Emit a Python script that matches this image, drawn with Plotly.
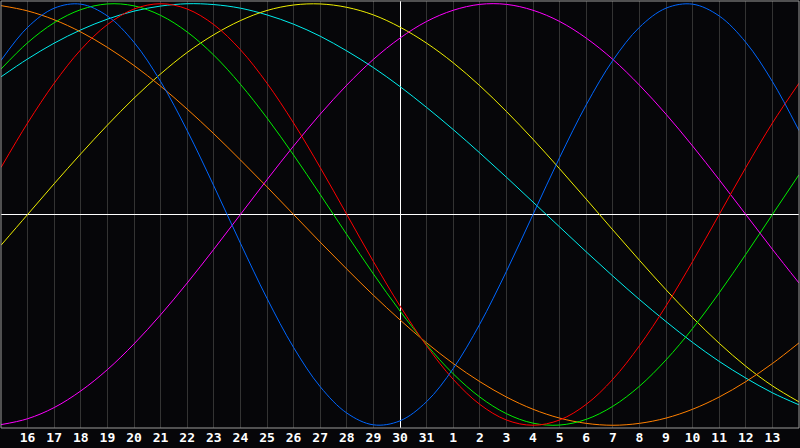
import plotly.graph_objects as go

# Day labels along the x axis (index 0 = 15th of previous month, index 30 = 14th)
days = [15, 16, 17, 18, 19, 20, 21, 22, 23, 24, 25, 26, 27, 28, 29, 30, 31,
        1, 2, 3, 4, 5, 6, 7, 8, 9, 10, 11, 12, 13, 14]
today = 30

# Cycle values (percent) read for each day
physical = [73.1, 88.8, 97.9, 99.8, 94.2, 81.7, 63.1, 39.8, 13.6, -13.6, -39.8,
            -63.1, -81.7, -94.2, -99.8, -97.9, -88.8, -73.1, -52.0, -27.0, 0.0,
            27.0, 52.0, 73.1, 88.8, 97.9, 99.8, 94.2, 81.7, 63.1, 39.8]
emotional = [22.3, 43.4, 62.3, 78.2, 90.1, 97.5, 100.0, 97.5, 90.1, 78.2, 62.3,
             43.4, 22.3, 0.0, -22.3, -43.4, -62.3, -78.2, -90.1, -97.5, -100.0,
             -97.5, -90.1, -78.2, -62.3, -43.4, -22.3, 0.0, 22.3, 43.4, 62.3]
intellectual = [69.0, 81.5, 91.0, 97.2, 99.9, 99.0, 94.5, 86.6, 75.6, 61.8, 45.8,
                28.2, 9.5, -9.5, -28.2, -45.8, -61.8, -75.6, -86.6, -94.5, -99.0,
                -99.9, -97.2, -91.0, -81.5, -69.0, -54.1, -37.2, -18.9, 0.0, 18.9]
intuitive = [-99.7, -96.9, -91.6, -83.7, -73.6, -61.4, -47.6, -32.5, -16.5, 0.0,
             16.5, 32.5, 47.6, 61.4, 73.6, 83.7, 91.6, 96.9, 99.7, 99.7, 96.9,
             91.6, 83.7, 73.6, 61.4, 47.6, 32.5, 16.5, 0.0, -16.5, -32.5]
aesthetic = [-14.6, 0.0, 14.6, 28.8, 42.4, 55.2, 66.7, 76.9, 85.3, 92.0, 96.8,
             99.4, 99.9, 98.3, 94.7, 88.9, 81.3, 72.0, 61.1, 48.9, 35.7, 21.7,
             7.3, -7.3, -21.7, -35.7, -48.9, -61.1, -72.0, -81.3, -88.9]
awareness = [99.1, 96.6, 92.4, 86.6, 79.3, 70.7, 60.9, 50.0, 38.3, 25.9, 13.1,
             0.0, -13.1, -25.9, -38.3, -50.0, -60.9, -70.7, -79.3, -86.6, -92.4,
             -96.6, -99.1, -100.0, -99.1, -96.6, -92.4, -86.6, -79.3, -70.7, -60.9]
spiritual = [65.3, 73.8, 81.3, 87.6, 92.7, 96.5, 98.9, 100.0, 99.6, 97.9, 94.7,
             90.3, 84.6, 77.6, 69.7, 60.7, 50.8, 40.3, 29.2, 17.7, 5.9, -5.9,
             -17.7, -29.2, -40.3, -50.8, -60.7, -69.7, -77.6, -84.6, -90.3]

series = [
    ("Spiritual", spiritual, "#00eeee"),
    ("Aesthetic", aesthetic, "#eeee00"),
    ("Awareness", awareness, "#ff8000"),
    ("Intuitive", intuitive, "#ff00ff"),
    ("Intellectual", intellectual, "#00ee00"),
    ("Emotional", emotional, "#ff0000"),
    ("Physical", physical, "#0066ff"),
]

x = list(range(len(days)))
fig = go.Figure()
for name, vals, col in series:
    fig.add_trace(go.Scatter(x=x, y=vals, mode="lines", name=name,
                             line=dict(color=col, width=1, shape="spline"),
                             hoverinfo="skip"))

tick_idx = x[1:-1]
tick_txt = [str(d) for d in days[1:-1]]
today_idx = days.index(today)

fig.update_layout(
    width=800, height=448,
    margin=dict(l=1, r=1, t=1, b=20),
    paper_bgcolor="#060609",
    plot_bgcolor="#060609",
    showlegend=False,
    xaxis=dict(range=[0, len(days) - 1], tickvals=tick_idx, ticktext=tick_txt,
               showgrid=True, gridcolor="#333333", gridwidth=1,
               zeroline=False, showline=False, ticks="",
               tickfont=dict(family="DejaVu Sans Mono", size=13, color="white",
                             weight="bold"),
               fixedrange=True),
    # overlay axis used only to draw the crisp white "today" line
    xaxis2=dict(range=[0, len(days) - 1], overlaying="x", side="bottom",
                tickvals=[today_idx], showticklabels=False, ticks="",
                showgrid=True, gridcolor="white", gridwidth=1,
                zeroline=False, showline=False, fixedrange=True),
    yaxis=dict(range=[-101.3, 101.3], showticklabels=False, showgrid=False,
               zeroline=True, zerolinecolor="white", zerolinewidth=1,
               fixedrange=True),
)
# invisible helper trace bound to the overlay axis
fig.add_trace(go.Scatter(x=[today_idx], y=[0], xaxis="x2", mode="markers",
                         marker=dict(opacity=0), hoverinfo="skip",
                         showlegend=False))

fig.add_shape(type="rect", xref="paper", yref="paper", x0=0, x1=1, y0=0, y1=1,
              line=dict(color="#9a9a9a", width=1), layer="above")

fig.write_html("out.html", config={"displayModeBar": False},
               post_script="document.body.style.margin='0';"
                           "document.body.style.background='#060609';")
